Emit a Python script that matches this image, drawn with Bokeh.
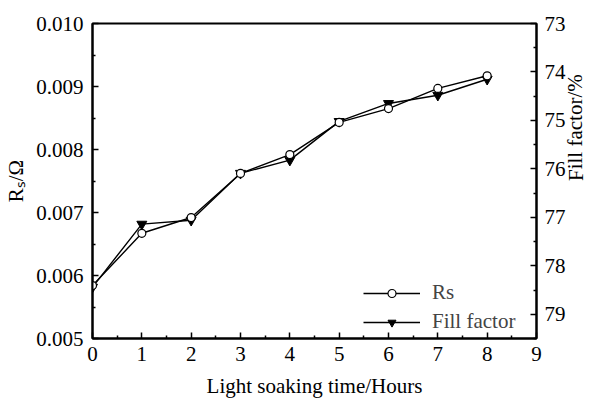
from bokeh.plotting import figure
from bokeh.models import (Range1d, LinearAxis, Legend, LegendItem,
                          FixedTicker, PrintfTickFormatter)
from bokeh.embed import file_html
from bokeh.resources import INLINE

# ---- data ----
hours = [0, 1, 2, 3, 4, 5, 6, 7, 8]
rs_values = [0.00584, 0.00667, 0.00692, 0.00762, 0.00792, 0.00843, 0.00865, 0.00897, 0.00917]
ff_values = [78.44, 77.14, 77.06, 76.09, 75.82, 75.02, 74.65, 74.48, 74.15]

x_ticks = [0, 1, 2, 3, 4, 5, 6, 7, 8, 9]
x_minor = [0.5, 1.5, 2.5, 3.5, 4.5, 5.5, 6.5, 7.5, 8.5]
rs_ticks = [0.005, 0.006, 0.007, 0.008, 0.009, 0.010]
rs_minor = [0.0055, 0.0065, 0.0075, 0.0085, 0.0095]
ff_ticks = [73, 74, 75, 76, 77, 78, 79]
ff_minor = [73.5, 74.5, 75.5, 76.5, 77.5, 78.5, 79.5]

FONT = "Liberation Serif"
FS = "21px"

p = figure(width=602, height=400, output_backend="svg", toolbar_location=None,
           x_range=Range1d(0, 9), y_range=Range1d(0.005, 0.010),
           min_border_left=92, min_border_right=54, min_border_top=23, min_border_bottom=62)
p.extra_y_ranges = {"ff": Range1d(start=79.5, end=73)}
p.grid.visible = False
p.outline_line_color = "black"
p.outline_line_width = 2

def style_axis(ax):
    ax.axis_line_color = "black"
    ax.axis_line_width = 2
    ax.major_tick_in = 6
    ax.major_tick_out = 0
    ax.minor_tick_in = 3
    ax.minor_tick_out = 0
    ax.major_tick_line_width = 1.5
    ax.minor_tick_line_width = 1.5
    ax.major_label_text_font = FONT
    ax.major_label_text_font_size = FS
    ax.major_label_text_color = "black"
    ax.axis_label_text_font = FONT
    ax.axis_label_text_font_size = FS
    ax.axis_label_text_font_style = "normal"
    ax.axis_label_text_color = "black"

xa = p.xaxis[0]
style_axis(xa)
xa.ticker = FixedTicker(ticks=x_ticks, minor_ticks=x_minor)
xa.axis_label = "Light soaking time/Hours"
xa.major_label_standoff = 8
xa.axis_label_standoff = 10

ya = p.yaxis[0]
style_axis(ya)
ya.ticker = FixedTicker(ticks=rs_ticks, minor_ticks=rs_minor)
ya.formatter = PrintfTickFormatter(format="%.3f")
ya.major_label_standoff = 9
ya.axis_label = "Rₛ/Ω"
ya.axis_label_standoff = 5

ra = LinearAxis(y_range_name="ff")
style_axis(ra)
ra.ticker = FixedTicker(ticks=ff_ticks, minor_ticks=ff_minor)
ra.axis_label = "Fill factor/%"
ra.axis_label_orientation = 1.5708
ra.axis_label_text_align = "center"
ra.axis_label_text_baseline = "middle"
ra.major_label_standoff = 8
ra.axis_label_standoff = 7
p.add_layout(ra, "right")

rs_line = p.line(hours, rs_values, line_color="black", line_width=1.4)
ff_line = p.line(hours, ff_values, y_range_name="ff", line_color="black", line_width=1.4)
ff_pts = p.scatter(hours, ff_values, y_range_name="ff", marker="inverted_triangle", size=10,
                   fill_color="black", line_color="black")
rs_pts = p.scatter(hours, rs_values, marker="circle", size=8, fill_color="white",
                   line_color="black", line_width=1.2)

legend = Legend(items=[LegendItem(label="Rs", renderers=[rs_line, rs_pts]),
                       LegendItem(label="Fill factor", renderers=[ff_line, ff_pts])],
                location=(271, 4), border_line_color=None, background_fill_alpha=0,
                label_text_font=FONT, label_text_font_size=FS, glyph_width=57,
                glyph_height=20, padding=0, margin=0, spacing=4, label_standoff=12)
p.add_layout(legend)

open("out.html", "w").write(file_html(p, INLINE))
